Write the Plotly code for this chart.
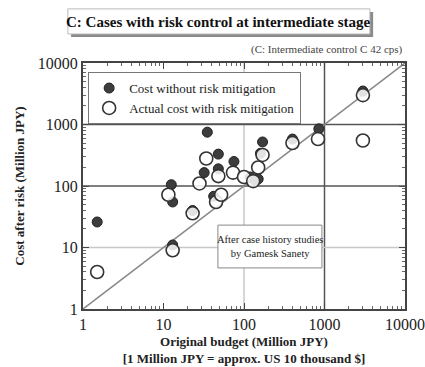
import plotly.graph_objects as go

# Data (Million JPY)
budget_without = [1.5, 12.5, 13, 13, 23, 32, 35, 42, 48, 48, 75, 120, 135, 150, 160, 170, 400, 850, 3000]
cost_without = [26, 105, 55, 11, 40, 165, 750, 68, 330, 190, 250, 140, 125, 130, 340, 520, 580, 850, 3500]

budget_actual = [1.5, 11.5, 13, 23, 28, 34, 45, 52, 48, 73, 100, 130, 150, 170, 400, 830, 3000, 3000]
cost_actual = [4, 72, 9, 36, 110, 280, 55, 72, 145, 165, 140, 120, 200, 320, 500, 580, 3000, 550]

tick_vals = [1, 10, 100, 1000, 10000]
tick_text = ["1", "10", "100", "1000", "10000"]

FONT = "Liberation Serif"

fig = go.Figure()
fig.add_trace(go.Scatter(
    x=budget_without, y=cost_without, mode="markers",
    name="Cost without risk mitigation",
    marker=dict(symbol="circle", size=10, color="#3d3d3d", line=dict(color="#222", width=1)),
))
fig.add_trace(go.Scatter(
    x=budget_actual, y=cost_actual, mode="markers",
    name="Actual cost with risk mitigation",
    marker=dict(symbol="circle", size=13, color="rgba(255,255,255,0.85)", line=dict(color="#333", width=1.6)),
))

shapes = []
# grid lines
for xv, col in [(100, "#c8c8c8"), (1000, "#555555")]:
    shapes.append(dict(type="line", xref="x", yref="paper", x0=xv, x1=xv, y0=0, y1=1,
                       line=dict(color=col, width=1.5), layer="below"))
for yv, col in [(10, "#c8c8c8"), (100, "#555555"), (1000, "#555555")]:
    shapes.append(dict(type="line", xref="paper", yref="y", x0=0, x1=1, y0=yv, y1=yv,
                       line=dict(color=col, width=1.5), layer="below"))
# diagonal y = x
shapes.append(dict(type="line", xref="x", yref="y", x0=1, y0=1, x1=10000, y1=10000,
                   line=dict(color="#888888", width=1.5), layer="below"))
# title box with shadow
shapes.append(dict(type="rect", xref="paper", yref="paper", x0=-0.037, x1=0.901, y0=1.106, y1=1.207,
                   fillcolor="#8a8a8a", line=dict(width=0), layer="above"))
shapes.append(dict(type="rect", xref="paper", yref="paper", x0=-0.047, x1=0.891, y0=1.118, y1=1.220,
                   fillcolor="white", line=dict(color="#bbbbbb", width=1), layer="above"))
# note box
shapes.append(dict(type="rect", xref="paper", yref="paper", x0=0.419, x1=0.742, y0=0.167, y1=0.341,
                   fillcolor="white", line=dict(color="#888888", width=1), layer="above"))

fig.update_layout(
    width=425, height=367,
    margin=dict(l=83, r=20, t=63, b=58, autoexpand=False),
    paper_bgcolor="white", plot_bgcolor="white",
    font=dict(family=FONT, color="#222", size=13),
    shapes=shapes,
    showlegend=True,
    legend=dict(x=0.016, y=0.963, xanchor="left", yanchor="top",
                bgcolor="white", bordercolor="#777", borderwidth=1,
                font=dict(family=FONT, size=13, color="#222"),
                itemwidth=30, tracegroupgap=0),
    xaxis=dict(type="log", range=[0, 4], tickvals=tick_vals, ticktext=tick_text,
               automargin=False,
               showgrid=False, zeroline=False,
               showline=True, mirror="allticks", linecolor="#444", linewidth=2,
               ticks="inside", ticklen=6, tickcolor="#444",
               minor=dict(ticks="inside", ticklen=3, tickcolor="#666", dtick="D1", showgrid=False),
               tickfont=dict(family=FONT, size=16, color="#222"),
               title=dict(text="<b>Original budget (Million JPY)</b><br><b>[1 Million JPY = approx. US 10 thousand $]</b>",
                          font=dict(family=FONT, size=13, color="#222"), standoff=5)),
    yaxis=dict(type="log", range=[0, 4], tickvals=tick_vals, ticktext=tick_text,
               automargin=False,
               showgrid=False, zeroline=False,
               showline=True, mirror="allticks", linecolor="#444", linewidth=2,
               ticks="inside", ticklen=6, tickcolor="#444",
               minor=dict(ticks="inside", ticklen=3, tickcolor="#666", dtick="D1", showgrid=False),
               tickfont=dict(family=FONT, size=16, color="#222"),
               title=dict(text="<b>Cost after risk (Million JPY)</b>",
                          font=dict(family=FONT, size=13, color="#222"), standoff=10)),
    annotations=[
        dict(text="<b>C: Cases with risk control at intermediate stage</b>",
             xref="paper", yref="paper", x=0.422, y=1.167, xanchor="center", yanchor="middle",
             showarrow=False, font=dict(family=FONT, size=15, color="#111")),
        dict(text="(C: Intermediate control C 42 cps)",
             xref="paper", yref="paper", x=1.0, y=1.053, xanchor="right", yanchor="middle",
             showarrow=False, font=dict(family=FONT, size=11, color="#444")),
        dict(text="After case history studies<br>by Gamesk Sanety",
             xref="paper", yref="paper", x=0.581, y=0.254, xanchor="center", yanchor="middle",
             showarrow=False, font=dict(family=FONT, size=10.5, color="#222")),
    ],
)

fig.write_html("out.html", config={"displayModeBar": False},
               post_script="document.body.style.margin='0px';")
